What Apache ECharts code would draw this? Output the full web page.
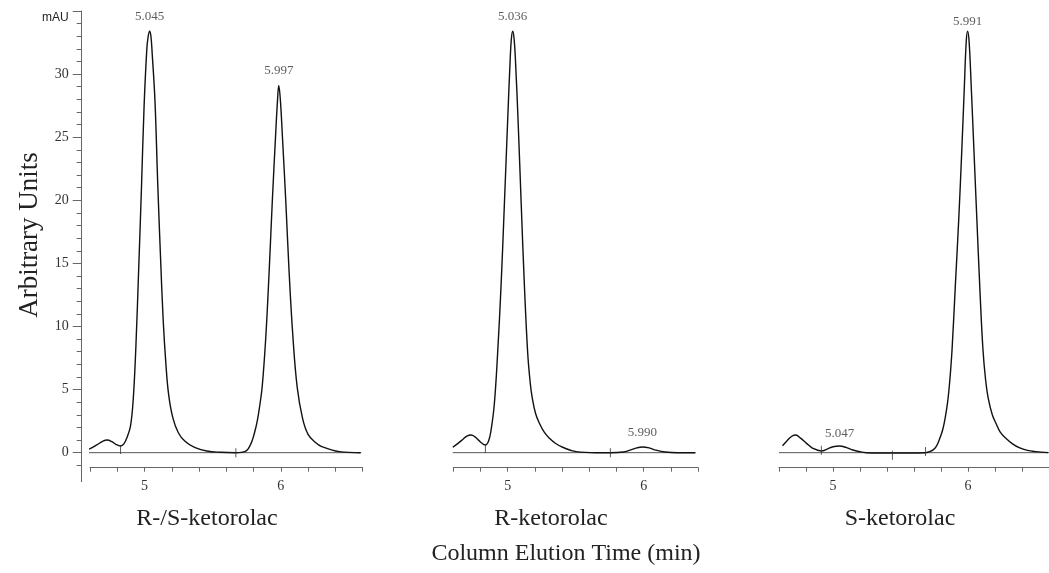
<!DOCTYPE html>
<html><head><meta charset="utf-8">
<script src="https://cdn.jsdelivr.net/npm/echarts@6/dist/echarts.min.js"></script>
<style>html,body{margin:0;padding:0;background:#fff}#c{width:1049px;height:573px}</style>
</head><body><div id="c"></div>
<script>
// ---------- data ----------
const panelTitles = ['R-/S-ketorolac', 'R-ketorolac', 'S-ketorolac'];
const axisTitleY = 'Arbitrary Units';
const axisTitleX = 'Column Elution Time (min)';
const xRanges = [[4.6, 6.6], [4.6, 6.4], [4.6, 6.6]];
const xTickLabels = [5, 6];
const yTickLabels = [0, 5, 10, 15, 20, 25, 30];
const yUnitTick = 35;
const yUnitLabel = 'mAU';
const yRange = [-2.3, 35];

const curveRS = [[4.556,0.16],[4.60,0.32],[4.65,0.62],[4.69,0.88],[4.725,1.0],[4.76,0.88],[4.79,0.66],[4.824,0.53],[4.85,0.72],[4.873,1.25],[4.897,2.1],[4.917,4.2],[4.937,8.5],[4.957,14.5],[4.977,20.8],[4.997,27.5],[5.017,32.0],[5.027,33.0],[5.037,33.4],[5.047,33.0],[5.057,31.5],[5.077,27.8],[5.097,21.3],[5.117,15.6],[5.137,10.5],[5.157,7.0],[5.177,4.6],[5.207,2.8],[5.247,1.6],[5.297,0.9],[5.367,0.42],[5.457,0.13],[5.557,0.03],[5.67,0.0],[5.74,0.1],[5.78,0.7],[5.805,1.5],[5.827,2.5],[5.845,3.7],[5.864,5.3],[5.89,9.2],[5.915,14.5],[5.937,19.8],[5.961,25.0],[5.975,27.8],[5.985,29.1],[5.997,27.9],[6.012,25.0],[6.037,19.8],[6.06,14.5],[6.088,9.3],[6.12,5.2],[6.16,2.7],[6.2,1.45],[6.25,0.85],[6.3,0.48],[6.43,0.08],[6.585,0.0]];
const curveR = [[4.596,0.43],[4.63,0.7],[4.67,1.05],[4.70,1.32],[4.731,1.4],[4.76,1.25],[4.80,0.85],[4.836,0.61],[4.86,0.95],[4.878,1.8],[4.902,3.9],[4.926,7.9],[4.951,13.2],[4.976,19.8],[5.0,26.4],[5.018,31.1],[5.027,32.8],[5.037,33.4],[5.047,32.8],[5.057,31.1],[5.076,26.4],[5.099,19.8],[5.123,13.2],[5.147,7.9],[5.165,5.6],[5.179,4.44],[5.205,3.1],[5.233,2.33],[5.27,1.6],[5.307,1.14],[5.35,0.75],[5.404,0.43],[5.503,0.08],[5.65,0.0],[5.755,0.0],[5.85,0.05],[5.90,0.2],[5.95,0.38],[5.99,0.45],[6.04,0.38],[6.09,0.2],[6.16,0.05],[6.25,0.0],[6.38,0.0]];
const curveS = [[4.626,0.55],[4.66,0.95],[4.695,1.3],[4.724,1.4],[4.76,1.15],[4.804,0.74],[4.85,0.35],[4.914,0.13],[4.96,0.3],[5.0,0.47],[5.049,0.53],[5.1,0.4],[5.148,0.21],[5.2,0.07],[5.247,0.0],[5.44,-0.03],[5.685,0.0],[5.714,0.08],[5.739,0.2],[5.764,0.48],[5.79,1.1],[5.812,1.8],[5.83,2.7],[5.849,4.0],[5.865,5.7],[5.882,8.2],[5.906,13.2],[5.931,18.4],[5.953,23.7],[5.973,29.0],[5.987,32.6],[5.997,33.4],[6.008,32.6],[6.024,29.0],[6.045,23.7],[6.066,18.4],[6.087,13.2],[6.11,8.3],[6.13,5.8],[6.15,4.3],[6.18,3.0],[6.207,2.33],[6.24,1.6],[6.281,1.14],[6.33,0.7],[6.379,0.4],[6.44,0.18],[6.502,0.08],[6.593,0.0]];
const curves = [curveRS, curveR, curveS];

const baselines = [[[4.556,0],[6.59,0]], [[4.596,0],[6.38,0]], [[4.6,0],[6.6,0]]];
const integrationMarks = [[[4.824,0.25],[5.67,0]], [[4.836,0.33],[5.755,0]], [[4.914,0.2],[5.44,-0.2],[5.685,0.1]]];
const peakTimes = [[5.037, 5.985], [5.037, 5.99], [5.049, 5.997]];
const peakHeights = [[33.4, 29.1], [33.4, 0.45], [0.53, 33.4]];
const peakLabels = [['5.045', '5.997'], ['5.036', '5.990'], ['5.047', '5.991']];

// ---------- layout / style ----------
const SERIF = 'Liberation Serif';
const grids = [
  {left: 90, top: 11, width: 272.6, height: 470.7},
  {left: 453.3, top: 11, width: 244.8, height: 470.7},
  {left: 779, top: 11, width: 270, height: 470.7}
];
const lineCol = '#111';
const axisCol = '#666';
const labelDist = [[8, 8], [8, 8], [6, 3]];

const yMajor = yTickLabels.concat([yUnitTick]);
const yMinor = [];
for (let v = -1; v < yUnitTick; v++) if (yMajor.indexOf(v) < 0) yMinor.push(v);

const xAxes = xRanges.map((r, i) => ({
  type: 'value', gridIndex: i, min: r[0], max: r[1], interval: 0.2,
  position: 'bottom', offset: -14,
  axisLine: {onZero: false, lineStyle: {color: axisCol, width: 1}},
  axisTick: {length: 4, lineStyle: {color: axisCol}},
  splitLine: {show: false},
  axisLabel: {customValues: xTickLabels, margin: 12, fontFamily: SERIF, fontSize: 14, color: '#333',
    formatter: v => String(Math.round(v))}
}));

const yAxes = [
  {type: 'value', gridIndex: 0, min: yRange[0], max: yRange[1], position: 'left', offset: 8.3,
   axisLine: {show: true, onZero: false, lineStyle: {color: axisCol}},
   axisTick: {show: true, length: 9, customValues: yMajor, lineStyle: {color: axisCol}},
   splitLine: {show: false},
   axisLabel: {customValues: yMajor, margin: 13, fontFamily: SERIF, fontSize: 14, color: '#333',
     formatter: v => (v === yUnitTick ? '{m|' + yUnitLabel + '}' : String(v)),
     rich: {m: {fontFamily: 'Liberation Sans', fontSize: 12, color: '#222', padding: [13, 0, 0, 0]}}}},
  {type: 'value', gridIndex: 0, min: yRange[0], max: yRange[1], position: 'left', offset: 8.3,
   axisLine: {show: false}, splitLine: {show: false}, axisLabel: {show: false},
   axisTick: {show: true, length: 5, customValues: yMinor, lineStyle: {color: axisCol}}},
  {type: 'value', gridIndex: 1, min: yRange[0], max: yRange[1], show: false, splitLine: {show: false}},
  {type: 'value', gridIndex: 2, min: yRange[0], max: yRange[1], show: false, splitLine: {show: false}}
];
const yIdx = [0, 2, 3];

const series = [];
curves.forEach((c, i) => {
  series.push({type: 'line', xAxisIndex: i, yAxisIndex: yIdx[i], data: baselines[i], showSymbol: false,
    clip: false, silent: true, lineStyle: {color: '#555', width: 1}, z: 1});
  series.push({type: 'line', xAxisIndex: i, yAxisIndex: yIdx[i], data: c, showSymbol: false,
    smooth: 0.4, clip: false, silent: true, lineStyle: {color: lineCol, width: 1.4}, z: 3});
  series.push({type: 'scatter', xAxisIndex: i, yAxisIndex: yIdx[i], data: integrationMarks[i], symbol: 'rect',
    symbolSize: [1, 9], itemStyle: {color: '#333'}, silent: true, clip: false, z: 4});
  series.push({type: 'scatter', xAxisIndex: i, yAxisIndex: yIdx[i], symbolSize: 0, silent: true, clip: false,
    data: peakTimes[i].map((t, k) => ({value: [t, peakHeights[i][k]], name: peakLabels[i][k],
      label: {distance: labelDist[i][k]}})),
    label: {show: true, position: 'top', formatter: '{b}', fontFamily: SERIF, fontSize: 13, color: '#333'}});
});

const titleCenters = [207, 551, 900];
const graphic = [
  {type: 'text', x: 30, y: 235, rotation: Math.PI / 2,
   style: {text: axisTitleY, font: '27px "Liberation Serif"', fill: '#222', align: 'center', verticalAlign: 'middle'}},
  {type: 'text', x: 566, y: 554,
   style: {text: axisTitleX, font: '24px "Liberation Serif"', fill: '#222', align: 'center', verticalAlign: 'middle'}}
].concat(panelTitles.map((t, i) => ({type: 'text', x: titleCenters[i], y: 519,
   style: {text: t, font: '24px "Liberation Serif"', fill: '#222', align: 'center', verticalAlign: 'middle'}})));

const chart = echarts.init(document.getElementById('c'), null, {renderer: 'canvas'});
chart.setOption({
  animation: false, backgroundColor: '#fff',
  grid: grids, xAxis: xAxes, yAxis: yAxes, series: series, graphic: graphic
});
</script></body></html>
